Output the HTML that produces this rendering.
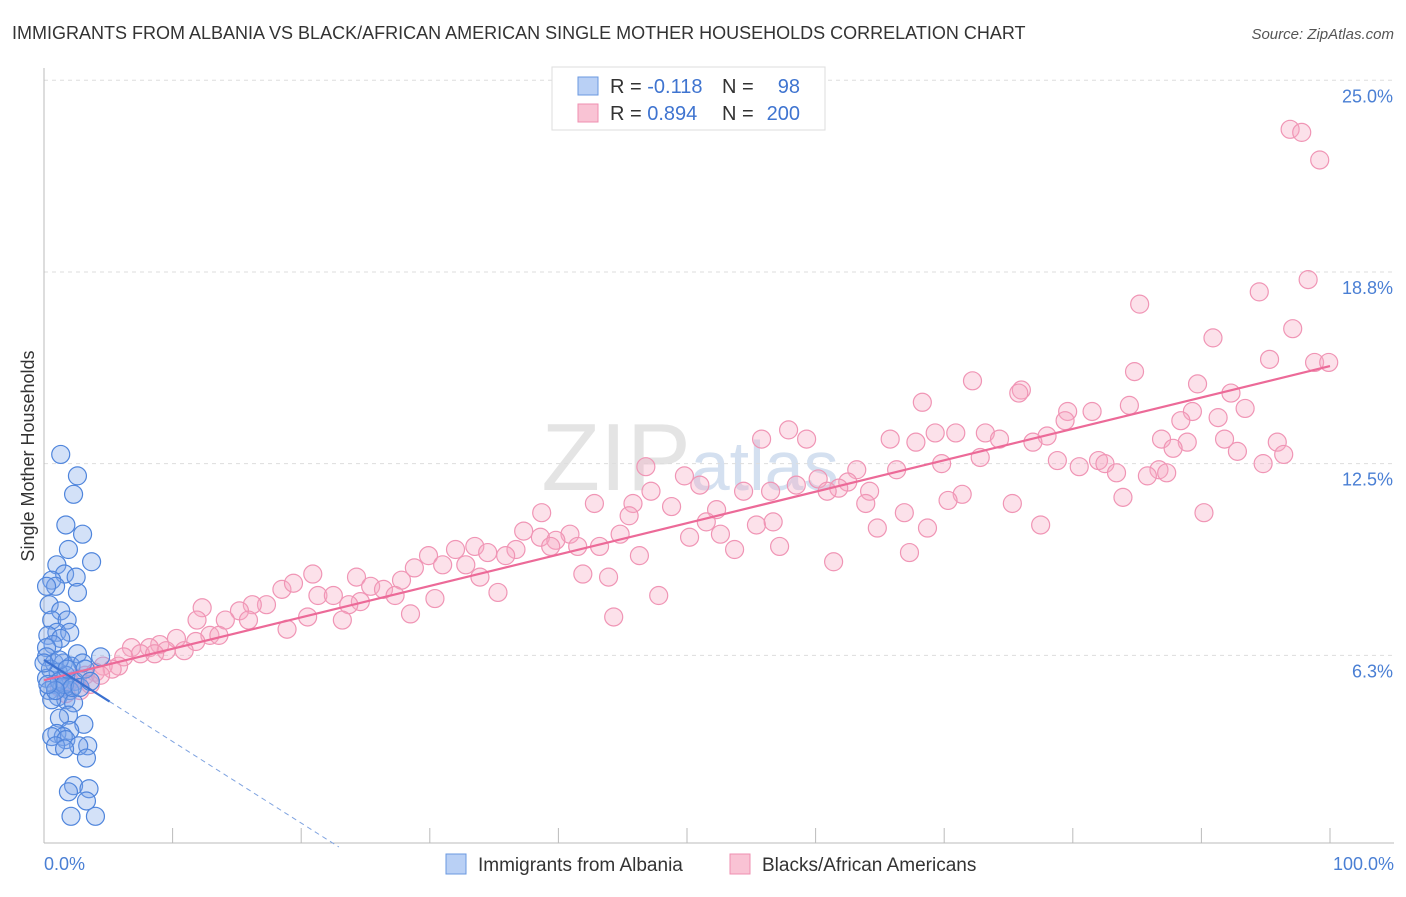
<!DOCTYPE html>
<html><head><meta charset="utf-8"><style>
body{margin:0;background:#fff;font-family:"Liberation Sans",sans-serif;}
svg text{font-family:"Liberation Sans",sans-serif;}
</style></head><body>
<svg id="chart" width="1406" height="892" xmlns="http://www.w3.org/2000/svg">
<text x="12" y="39" font-size="18" fill="#333">IMMIGRANTS FROM ALBANIA VS BLACK/AFRICAN AMERICAN SINGLE MOTHER HOUSEHOLDS CORRELATION CHART</text>
<text x="1394" y="39" font-size="15" fill="#555" font-style="italic" text-anchor="end">Source: ZipAtlas.com</text>
<text x="690" y="490" font-size="96" fill="#e4e4e4" text-anchor="middle" font-family="Liberation Serif">ZIP<tspan fill="#d4e0f0" font-family="Liberation Sans" font-size="70">atlas</tspan></text>
<g id="grid"></g>
<g id="axes"></g>
<g id="pts"></g>
<g id="trends"></g>
<text transform="translate(34,456) rotate(-90)" font-size="18" fill="#333" text-anchor="middle">Single Mother Households</text>
<text x="44" y="870" font-size="18" fill="#4a7fd4">0.0%</text>
<text x="1394" y="870" font-size="18" fill="#4a7fd4" text-anchor="end">100.0%</text>
<g>
<rect x="552" y="67" width="273" height="63" fill="#fff" stroke="#ddd"/>
<rect x="578" y="77" width="20" height="18" fill="#b9d0f5" stroke="#6a98e0"/>
<rect x="578" y="104" width="20" height="18" fill="#f9c3d4" stroke="#ef8fb0"/>
<text x="610" y="93" font-size="20" fill="#333">R = <tspan fill="#3f74d0">-0.118</tspan></text>
<text x="722" y="93" font-size="20" fill="#333">N = </text><text x="800" y="93" font-size="20" fill="#3f74d0" text-anchor="end">98</text>
<text x="610" y="120" font-size="20" fill="#333">R = <tspan fill="#3f74d0">0.894</tspan></text>
<text x="722" y="120" font-size="20" fill="#333">N = </text><text x="800" y="120" font-size="20" fill="#3f74d0" text-anchor="end">200</text>
</g>
<g>
<rect x="446" y="854" width="20" height="20" fill="#b9d0f5" stroke="#6a98e0"/>
<text x="478" y="871" font-size="19" fill="#333">Immigrants from Albania</text></g>
<g>
<rect x="730" y="854" width="20" height="20" fill="#f9c3d4" stroke="#ef8fb0"/>
<text x="762" y="871" font-size="19" fill="#333">Blacks/African Americans</text></g>
</svg>
<script>
const yTicks=[6.25,12.5,18.75,25];
const yTickLabels=["6.3%","12.5%","18.8%","25.0%"];
const xTicks=[0,10,20,30,40,50,60,70,80,90,100];
const pinkX=[96.9,97.8,99.2,98.3,94.5,85.2,97.1,90.9,95.3,98.8,99.9,84.8,72.2,89.7,76.0,75.8,92.3,68.3,84.4,93.4,79.6,81.5,89.3,79.4,91.3,88.4,57.9,69.3,70.9,73.2,78.0,74.3,86.9,55.8,59.3,65.8,67.8,76.9,88.9,91.8,95.9,92.8,87.8,96.4,72.8,78.8,82.0,82.5,94.8,46.8,69.8,63.2,66.3,80.5,86.7,85.8,83.4,49.8,60.2,62.5,87.3,58.5,51.0,61.8,60.9,56.5,54.4,47.2,64.2,71.4,70.3,83.9,42.8,45.8,48.8,52.3,38.7,45.5,63.9,75.3,90.2,66.9,51.5,55.4,56.7,64.8,77.5,68.7,37.3,40.9,44.8,52.6,50.2,38.6,39.8,41.5,43.2,36.7,33.5,39.4,53.7,57.2,46.3,35.9,34.5,29.9,32.0,67.3,31.0,32.8,28.8,33.9,41.9,43.9,61.4,24.3,27.8,20.9,25.4,35.3,47.8,18.5,19.4,26.4,21.3,22.5,24.6,27.3,30.4,23.7,17.3,28.5,16.2,20.5,23.2,44.3,12.3,15.2,14.1,11.9,15.9,18.9,10.3,12.9,13.6,11.8,9.0,6.8,8.2,9.5,10.9,7.5,6.2,8.6,5.8,4.6,5.3,4.0,3.2,2.6,2.0,3.6,1.2,4.4,2.8,1.7];
const pinkY=[23.4,23.3,22.4,18.5,18.1,17.7,16.9,16.6,15.9,15.8,15.8,15.5,15.2,15.1,14.9,14.8,14.8,14.5,14.4,14.3,14.2,14.2,14.2,13.9,14.0,13.9,13.6,13.5,13.5,13.5,13.4,13.3,13.3,13.3,13.3,13.3,13.2,13.2,13.2,13.3,13.2,12.9,13.0,12.8,12.7,12.6,12.6,12.5,12.5,12.4,12.5,12.3,12.3,12.4,12.3,12.1,12.2,12.1,12.0,11.9,12.2,11.8,11.8,11.7,11.6,11.6,11.6,11.6,11.6,11.5,11.3,11.4,11.2,11.2,11.1,11.0,10.9,10.8,11.2,11.2,10.9,10.9,10.6,10.5,10.6,10.4,10.5,10.4,10.3,10.2,10.2,10.2,10.1,10.1,10.0,9.8,9.8,9.7,9.8,9.8,9.7,9.8,9.5,9.5,9.6,9.5,9.7,9.6,9.2,9.2,9.1,8.8,8.9,8.8,9.3,8.8,8.7,8.9,8.5,8.3,8.2,8.4,8.6,8.4,8.2,8.2,8.0,8.2,8.1,7.9,7.9,7.6,7.9,7.5,7.4,7.5,7.8,7.7,7.4,7.4,7.4,7.1,6.8,6.9,6.9,6.7,6.6,6.5,6.5,6.4,6.4,6.3,6.2,6.3,5.9,5.9,5.8,5.7,5.6,5.5,5.4,5.3,5.2,5.6,5.1,5.0];
const blueX=[1.3,2.6,2.3,1.7,3.0,1.9,3.7,1.0,1.6,2.5,0.6,0.9,2.6,0.2,0.4,1.3,0.6,1.8,1.0,2.0,0.3,1.3,0.7,0.2,2.6,4.4,0.2,0.8,1.5,2.1,3.0,0.5,1.1,1.7,0.2,2.4,0.8,1.4,0.4,2.0,1.1,1.7,0.6,2.3,1.9,1.2,3.1,2.0,1.0,1.5,0.6,1.7,3.4,0.9,2.7,1.6,3.3,2.3,3.5,1.9,3.3,2.1,4.0,1.2,1.6,2.2,2.8,0.9,3.2,3.6,0.3,1.2,1.8,0.0];
const blueY=[12.8,12.1,11.5,10.5,10.2,9.7,9.3,9.2,8.9,8.8,8.7,8.5,8.3,8.5,7.9,7.7,7.4,7.4,7.0,7.0,6.9,6.8,6.6,6.5,6.3,6.2,6.2,6.0,6.0,5.9,6.0,5.8,5.7,5.6,5.5,5.4,5.3,5.2,5.1,5.1,4.9,4.8,4.8,4.7,4.3,4.2,4.0,3.8,3.7,3.6,3.6,3.5,3.3,3.3,3.3,3.2,2.9,2.0,1.9,1.8,1.5,1.0,1.0,5.4,5.3,5.2,5.2,5.1,5.8,5.4,5.3,6.1,5.8,6.0];
const pinkTrend=[5.44,0.1024]; // intercept, slope
const blueTrend=[6.1,-0.266];
const blueSolidEnd=5.1;

const NS="http://www.w3.org/2000/svg";
const X=v=>44+v*12.86, Y=v=>847-v*30.67;
function mk(tag,attrs,parent){const e=document.createElementNS(NS,tag);for(const k in attrs)e.setAttribute(k,attrs[k]);document.getElementById(parent).appendChild(e);return e;}
yTicks.forEach((t,i)=>{
  const l=mk('line',{x1:44,x2:1394,y1:Y(t),y2:Y(t),stroke:'#ddd','stroke-dasharray':'4,4'},'grid');
  
  
  const tx=mk('text',{x:1393,y:Y(t)+22,'font-size':18,fill:'#4a7fd4','text-anchor':'end'},'grid');
  tx.textContent=yTickLabels[i];
  
  
});
const ax=mk('line',{x1:44,x2:1394,y1:843,y2:843,stroke:'#bbb'},'axes');


const ay=mk('line',{x1:44,x2:44,y1:68,y2:843,stroke:'#bbb'},'axes');


xTicks.forEach(t=>{
  const l=mk('line',{x1:X(t),x2:X(t),y1:828,y2:843,stroke:'#bbb'},'axes');
  
  
});
pinkX.forEach((x,i)=>{
  const c=mk('circle',{cx:X(x),cy:Y(pinkY[i]),r:9,fill:'rgba(246,170,196,0.35)',stroke:'#f095b5','stroke-width':1.2},'pts');
  
  
});
blueX.forEach((x,i)=>{
  const c=mk('circle',{cx:X(x),cy:Y(blueY[i]),r:9,fill:'rgba(130,170,235,0.35)',stroke:'#4f85dc','stroke-width':1.2},'pts');
  
  
});
const pt=mk('line',{x1:X(0),y1:Y(pinkTrend[0]),x2:X(100),y2:Y(pinkTrend[0]+100*pinkTrend[1]),stroke:'#ec6a98','stroke-width':2.2},'trends');


const bs=mk('line',{x1:X(0),y1:Y(blueTrend[0]),x2:X(blueSolidEnd),y2:Y(blueTrend[0]+blueSolidEnd*blueTrend[1]),stroke:'#3a70d0','stroke-width':2.2},'trends');


const xEnd=-blueTrend[0]/blueTrend[1];
const bd=mk('line',{x1:X(blueSolidEnd),y1:Y(blueTrend[0]+blueSolidEnd*blueTrend[1]),x2:X(xEnd),y2:Y(0),stroke:'#7fa3e0','stroke-width':1,'stroke-dasharray':'5,4'},'trends');


</script>
</body></html>
